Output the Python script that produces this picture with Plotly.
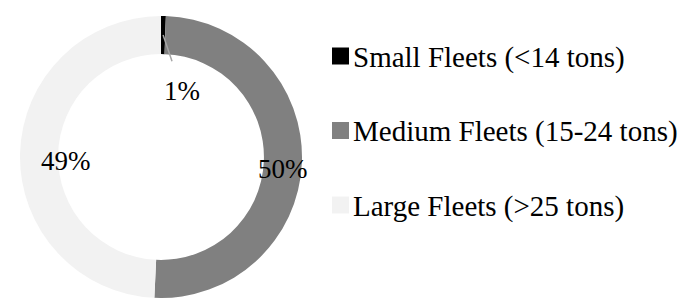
import math
import plotly.graph_objects as go

# ---- data ----
categories = ["Small Fleets (<14 tons)", "Medium Fleets (15-24 tons)", "Large Fleets (>25 tons)"]
shares = [0.55, 50.2, 49.25]
colors = ["#000000", "#808080", "#f2f2f2"]

W, H = 684, 298
FONT = "Liberation Serif, Times New Roman, serif"

# pie placement (px)
cx, cy, R = 161, 157, 141
hole = 0.73

fig = go.Figure(go.Pie(
    labels=categories,
    values=shares,
    sort=False,
    direction="clockwise",
    rotation=0,
    hole=hole,
    marker=dict(colors=colors, line=dict(width=0)),
    textinfo="none",
    showlegend=False,
    domain=dict(x=[(cx - R) / W, (cx + R) / W], y=[(H - cy - R) / H, (H - cy + R) / H]),
))

def px2paper(x, y):
    return x / W, 1 - y / H

total = sum(shares)
pct = [f"{round(v / total * 100)}%" for v in shares]
rmid = R * (1 + hole) / 2
annotations = []
shapes = []
cum = 0
for i, v in enumerate(shares):
    mid = (cum + v / 2) / total * 2 * math.pi
    cum += v
    mx = cx + rmid * math.sin(mid)
    my = cy - rmid * math.cos(mid)
    px, py = px2paper(mx, my)
    if i == 0:
        annotations.append(dict(
            x=px, y=py, xref="paper", yref="paper", text=pct[i],
            showarrow=True, arrowhead=0, arrowwidth=1.5, arrowcolor="#a6a6a6",
            ax=19, ay=56, startstandoff=14,
            font=dict(family=FONT, size=27, color="black"),
        ))
    else:
        annotations.append(dict(
            x=px, y=py, xref="paper", yref="paper", text=pct[i], showarrow=False,
            yshift=-7, font=dict(family=FONT, size=27, color="black"),
        ))

# legend
sq = 17
lx = 332
ly0, pitch = 56, 74.5
for i, (c, col) in enumerate(zip(categories, colors)):
    yc = ly0 + i * pitch
    x0, y0 = px2paper(lx, yc - sq / 2)
    x1, y1 = px2paper(lx + sq, yc + sq / 2)
    shapes.append(dict(type="rect", xref="paper", yref="paper", x0=x0, x1=x1, y0=y1, y1=y0,
                       fillcolor=col, line=dict(width=0)))
    tx, ty = px2paper(lx + sq + 2, yc + 1)
    annotations.append(dict(x=tx, y=ty, xref="paper", yref="paper", text=c, showarrow=False,
                            xanchor="left", yanchor="middle",
                            font=dict(family=FONT, size=29, color="black")))

fig.update_layout(
    width=W, height=H,
    margin=dict(l=0, r=0, t=0, b=0),
    paper_bgcolor="white", plot_bgcolor="white",
    annotations=annotations, shapes=shapes,
)
fig.write_html("out.html", config={"displayModeBar": False},
               post_script="document.body.style.margin='0';")
